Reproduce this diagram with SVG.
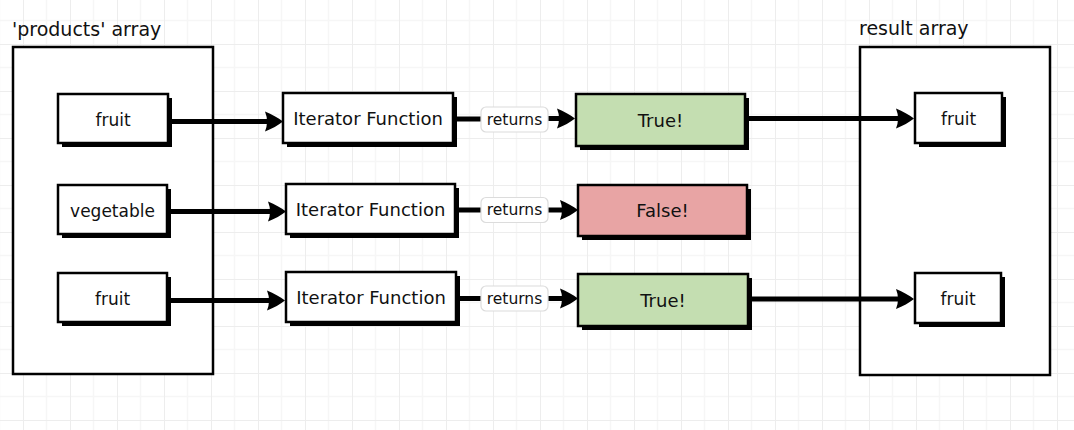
<svg xmlns="http://www.w3.org/2000/svg" width="1074" height="430" viewBox="0 0 1074 430">
  <defs>
    <pattern id="grid" x="23" y="44" width="47" height="47" patternUnits="userSpaceOnUse">
      <path d="M23.5,0 V47 M0,23.5 H47" stroke="#f6f6f6" stroke-width="1.5" fill="none"/>
      <path d="M0,0 V47 M0,0 H47" stroke="#ededed" stroke-width="2" fill="none"/>
    </pattern>
    <marker id="arrow" markerUnits="userSpaceOnUse" markerWidth="20" markerHeight="22" refX="5" refY="10" orient="auto" overflow="visible">
      <path d="M0,0 C7,3 13,6 18,10 C13,14 7,17 0,20 Q4,10 0,0 Z" fill="#000"/>
    </marker>
    <style>
      .title { font-family: "DejaVu Sans", "Liberation Sans", sans-serif; font-size: 19px; fill: #111; }
      .txt { font-family: "DejaVu Sans", "Liberation Sans", sans-serif; font-size: 17px; fill: #111; text-anchor: middle; }
      .ftxt { font-family: "DejaVu Sans", "Liberation Sans", sans-serif; font-size: 18px; fill: #111; text-anchor: middle; }
      .lbl { font-family: "DejaVu Sans", "Liberation Sans", sans-serif; font-size: 15.5px; fill: #111; text-anchor: middle; }
      .box { fill: #fff; stroke: #000; stroke-width: 2.5; }
      .shadow { fill: #000; }
      .container { fill: #fff; stroke: #000; stroke-width: 2.5; }
      .green { fill: #c4deb1; stroke: #000; stroke-width: 2.5; }
      .red { fill: #e8a4a4; stroke: #000; stroke-width: 2.5; }
      .pill { fill: #fff; stroke: #dcdcdc; stroke-width: 1.2; }
      .conn { stroke: #000; stroke-width: 5; fill: none; }
    </style>
  </defs>

  <rect x="0" y="0" width="1074" height="430" fill="#fff"/>
  <rect x="0" y="0" width="1074" height="430" fill="url(#grid)"/>

  <g id="products-array">
    <text class="title" x="12" y="36">'products' array</text>
    <rect class="container" x="13" y="47" width="200" height="327"/>
  </g>

  <g id="result-array">
    <text class="title" x="859" y="35">result array</text>
    <rect class="container" x="860" y="47" width="190" height="328"/>
  </g>

  <g id="connectors">
    <line class="conn" x1="168" y1="121.5" x2="270" y2="121.5" marker-end="url(#arrow)"/>
    <line class="conn" x1="167" y1="211.5" x2="273" y2="211.5" marker-end="url(#arrow)"/>
    <line class="conn" x1="167" y1="300.5" x2="272" y2="300.5" marker-end="url(#arrow)"/>

    <line class="conn" x1="453" y1="119" x2="482" y2="119"/>
    <line class="conn" x1="455" y1="210" x2="482" y2="210"/>
    <line class="conn" x1="456" y1="298.5" x2="482" y2="298.5"/>

    <line class="conn" x1="547" y1="118.5" x2="562" y2="118.5" marker-end="url(#arrow)"/>
    <line class="conn" x1="547" y1="210" x2="565" y2="210" marker-end="url(#arrow)"/>
    <line class="conn" x1="547" y1="298.5" x2="565" y2="298.5" marker-end="url(#arrow)"/>

    <line class="conn" x1="745" y1="118.5" x2="901" y2="118.5" marker-end="url(#arrow)"/>
    <line class="conn" x1="748" y1="299" x2="901" y2="299" marker-end="url(#arrow)"/>

    <g id="label-returns-1">
      <rect class="pill" x="481" y="107" width="67" height="25" rx="5"/>
      <text class="lbl" x="514.5" y="124.5">returns</text>
    </g>
    <g id="label-returns-2">
      <rect class="pill" x="481" y="197.5" width="67" height="25" rx="5"/>
      <text class="lbl" x="514.5" y="215">returns</text>
    </g>
    <g id="label-returns-3">
      <rect class="pill" x="481" y="286" width="67" height="25" rx="5"/>
      <text class="lbl" x="514.5" y="303.5">returns</text>
    </g>
  </g>

  <g id="fruit-1">
    <rect class="shadow" x="62" y="98" width="110" height="49"/>
    <rect class="box" x="58" y="94" width="110" height="49"/>
    <text class="txt" x="113" y="126">fruit</text>
  </g>
  <g id="vegetable">
    <rect class="shadow" x="62" y="189" width="109" height="49"/>
    <rect class="box" x="58" y="185" width="109" height="49"/>
    <text class="txt" x="112.5" y="216.5">vegetable</text>
  </g>
  <g id="fruit-3">
    <rect class="shadow" x="62" y="277" width="109" height="49"/>
    <rect class="box" x="58" y="273" width="109" height="49"/>
    <text class="txt" x="112.5" y="304.5">fruit</text>
  </g>

  <g id="iterator-1">
    <rect class="shadow" x="287" y="97" width="170" height="50"/>
    <rect class="box" x="283" y="93" width="170" height="50"/>
    <text class="ftxt" x="368" y="125">Iterator Function</text>
  </g>
  <g id="iterator-2">
    <rect class="shadow" x="290" y="188" width="169" height="50"/>
    <rect class="box" x="286" y="184" width="169" height="50"/>
    <text class="ftxt" x="370.5" y="216">Iterator Function</text>
  </g>
  <g id="iterator-3">
    <rect class="shadow" x="290" y="276" width="170" height="50"/>
    <rect class="box" x="286" y="272" width="170" height="50"/>
    <text class="ftxt" x="371" y="304">Iterator Function</text>
  </g>

  <g id="true-1">
    <rect class="shadow" x="580" y="98" width="169" height="52"/>
    <rect class="green" x="576" y="94" width="169" height="52"/>
    <text class="ftxt" x="660.5" y="126.5">True!</text>
  </g>
  <g id="false-2">
    <rect class="shadow" x="582" y="189" width="169" height="51"/>
    <rect class="red" x="578" y="185" width="169" height="51"/>
    <text class="ftxt" x="662.5" y="217">False!</text>
  </g>
  <g id="true-3">
    <rect class="shadow" x="582" y="278" width="170" height="52"/>
    <rect class="green" x="578" y="274" width="170" height="52"/>
    <text class="ftxt" x="663" y="306.5">True!</text>
  </g>

  <g id="result-fruit-1">
    <rect class="shadow" x="919" y="97" width="87" height="50"/>
    <rect class="box" x="915" y="93" width="87" height="50"/>
    <text class="txt" x="958.5" y="125">fruit</text>
  </g>
  <g id="result-fruit-3">
    <rect class="shadow" x="919" y="277" width="86" height="50"/>
    <rect class="box" x="915" y="273" width="86" height="50"/>
    <text class="txt" x="958" y="305">fruit</text>
  </g>
</svg>
